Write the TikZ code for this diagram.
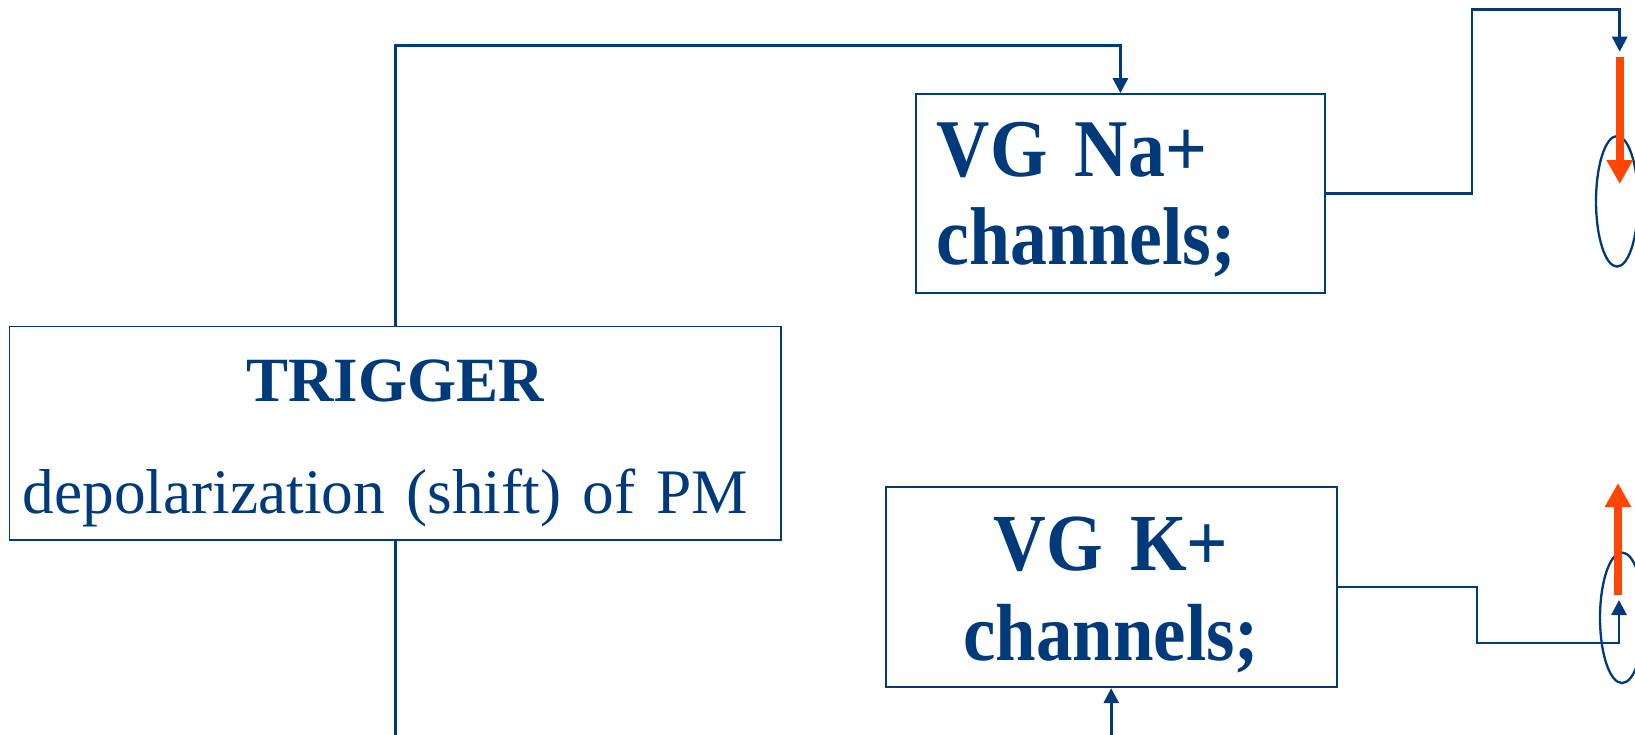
\documentclass[tikz,border=0pt]{standalone}
\usepackage{fontspec}
\setmainfont{Liberation Serif}
\newfontfamily\boxfont[FakeStretch=0.9]{Liberation Serif}
\usetikzlibrary{arrows.meta,shapes.geometric}
\definecolor{navy}{RGB}{0,58,122}
\definecolor{orng}{RGB}{255,70,5}
\begin{document}
\begin{tikzpicture}[x=1pt,y=-1pt,
  box/.style={draw=navy, line width=1.8pt, rectangle, inner sep=0pt, text=navy},
  conn/.style={draw=navy, line width=2.9pt},
  tip/.style={-{Triangle[width=15pt,length=15pt]}},
  bigarrow/.style={draw=orng, line width=8pt, -{Triangle[width=25pt,length=24pt]}},
  cell/.style={ellipse, draw=navy, line width=2.3pt, inner sep=0pt}]
\useasboundingbox (0,0) rectangle (1635,734);

\node[box, minimum width=771.6pt, minimum height=213.6pt, text width=760pt, align=center,
      text height=60pt, text depth=123.4pt, font=\fontsize{63.4}{111.5}\selectfont]
      (trig) at (395.2,433.2) {{\bfseries\fontsize{63}{111.5}\selectfont TRIGGER}\\depolarization (shift) of PM\kern20pt};

\node[box, minimum width=409.3pt, minimum height=199.3pt, text width=367pt, align=left,
      text height=60pt, text depth=94pt, font=\boxfont\bfseries\fontsize{82}{88}\selectfont]
      (na) at (1120.4,193.7) {VG Na+\\channels;};

\node[box, minimum width=451pt, minimum height=200.6pt, text width=440pt, align=center,
      text height=60pt, text depth=94pt, font=\boxfont\bfseries\fontsize{81}{90}\selectfont]
      (k) at (1111.2,587) {VG K+\\channels;};

\node[cell, minimum width=42pt, minimum height=130.5pt] (c1) at (1617,201.3) {};
\node[cell, minimum width=44pt, minimum height=130.5pt] (c2) at (1622,617.8) {};

\coordinate (ytop) at (0,45.9);
\coordinate (trigdown) at (395.2,740);
\coordinate (kup) at (1111.2,740);
\coordinate (nabend) at (1472,9.4);
\coordinate (natip) at (1619.7,51.7);
\coordinate (kbend) at (1477,643);
\coordinate (ktip) at (1619,600);
\coordinate (o1s) at (1619.7,56.7);
\coordinate (o1e) at (1619.7,184);
\coordinate (o2s) at (1618,595);
\coordinate (o2e) at (1618,483);

\draw[conn,tip] (trig.north) -- (trig.north |- ytop) -- (na.north |- ytop) -- (na.north);
\draw[conn] (trig.south) -- (trigdown);
\draw[conn,tip] (kup) -- (k.south);
\draw[conn,tip] (na.east) -| (nabend) -| (natip);
\draw[conn,tip] (k.east) -| (kbend) -| (ktip);

\draw[bigarrow] (o1s) -- (o1e);
\draw[bigarrow] (o2s) -- (o2e);
\end{tikzpicture}
\end{document}
